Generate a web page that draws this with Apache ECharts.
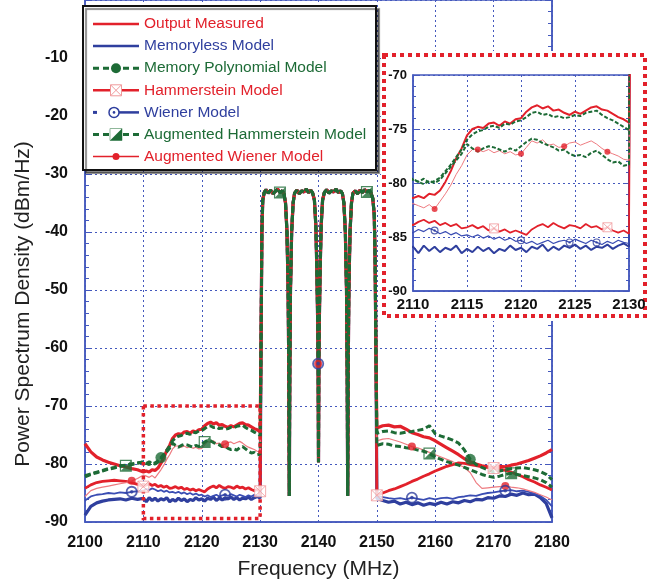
<!DOCTYPE html>
<html>
<head>
<meta charset="utf-8">
<script src="https://cdn.jsdelivr.net/npm/echarts@6/dist/echarts.min.js"></script>
<style>
html,body{margin:0;padding:0;background:#fff;}
#chart{width:651px;height:586px;}
</style>
</head>
<body>
<div id="chart"></div>
<script>
// ---- frequency grids (MHz) ----
const freqLow = [2100,2101,2102,2103,2104,2105,2106,2107,2108,2109,
  2110,2110.5,2111,2111.5,2112,2112.5,2113,2113.5,2114,2114.5,2115,2115.5,2116,2116.5,2117,2117.5,2118,2118.5,2119,2119.5,
  2120,2120.5,2121,2121.5,2122,2122.5,2123,2123.5,2124,2124.5,2125,2125.5,2126,2126.5,2127,2127.5,2128,2128.5,2129,2129.5,2130];
const carrierFreq = [2130.15,2130.3,2130.45,2130.7,2131.0,2131.4,2131.8,2132.2,2132.6,2133.0,2133.4,2133.8,2134.1,2134.35,2134.6,2134.8,2134.92,2135.0,2135.08,2135.2,
  2135.4,2135.65,2135.9,2136.3,2136.7,2137.1,2137.5,2137.9,2138.3,2138.7,2139.0,2139.3,2139.55,2139.75,2139.88,2139.94,2140.0,2140.06,2140.12,2140.25,
  2140.45,2140.7,2141.0,2141.4,2141.8,2142.2,2142.6,2143.0,2143.4,2143.8,2144.1,2144.35,2144.6,2144.8,2144.92,2145.0,2145.08,2145.2,2145.4,2145.65,
  2145.9,2146.3,2146.7,2147.1,2147.5,2147.9,2148.3,2148.7,2149.0,2149.3,2149.55,2149.7,2149.85];
const freqHigh = [2150,2151,2152,2153,2154,2155,2156,2157,2158,2159,2160,2161,2162,2163,2164,2165,2166,2167,2168,2169,2170,2171,2172,2173,2174,2175,2176,2177,2178,2179,2180];

// ---- four-carrier band, common to all models (dBm/Hz) ----
const carrierLevel = [-60,-40,-34.5,-33.2,-32.7,-33.3,-32.8,-33.4,-33.0,-32.6,-33.2,-32.9,-33.5,-35,-40,-50,-65,-85.5,-65,-50,
  -40,-35,-33.3,-32.8,-33.4,-32.9,-33.1,-32.6,-33.2,-32.8,-33.3,-34.5,-39,-48,-57,-62.7,-79.7,-62.7,-57,-48,
  -39,-34.5,-33.2,-32.7,-33.3,-32.9,-33.1,-32.6,-33.2,-32.9,-33.4,-35,-40,-50,-65,-85.5,-65,-50,-40,-35,
  -33.3,-32.9,-33.4,-32.8,-33.2,-32.7,-33.1,-32.8,-33.3,-34.2,-37,-45,-62];

// ---- lower adjacent band (2100-2130) ----
const outputLow = [-76.5,-77.9,-78.8,-79.3,-79.7,-80.0,-80.3,-80.5,-80.8,-81.0,
  -81.4,-81.2,-81.4,-81.0,-81.1,-80.7,-79.9,-78.9,-77.7,-76.8,-75.6,-75.0,-74.8,-74.9,-74.5,-74.4,-74.7,-74.3,-74.5,-74.1,
  -74.0,-73.4,-73.0,-72.8,-73.1,-72.9,-73.3,-73.2,-73.5,-73.7,-73.4,-73.6,-73.3,-73.0,-72.9,-73.2,-73.3,-73.6,-73.9,-74.1,-74.4];
const memorylessLow = [-88.8,-87.3,-86.7,-86.4,-86.2,-86.1,-86.0,-86.2,-85.9,-86.1,
  -85.9,-86.5,-85.8,-86.3,-85.9,-86.4,-86.0,-86.2,-85.8,-86.5,-86.1,-86.4,-85.9,-86.3,-86.0,-86.5,-86.1,-86.3,-85.8,-86.2,
  -86.0,-86.4,-85.9,-86.1,-85.7,-86.3,-85.9,-86.2,-85.8,-86.0,-85.7,-86.1,-85.8,-86.2,-85.9,-86.0,-85.7,-86.1,-85.8,-85.6,-85.9];
const memPolyLow = [-82.0,-81.7,-81.4,-81.1,-80.8,-80.6,-80.3,-80.2,-80.0,-79.8,
  -79.7,-79.9,-79.6,-80.0,-79.8,-79.5,-78.9,-78.3,-77.6,-76.9,-76.0,-75.5,-75.2,-75.1,-74.8,-74.7,-74.9,-74.5,-74.6,-74.3,
  -74.2,-73.9,-73.5,-73.4,-73.7,-73.6,-73.9,-73.8,-74.0,-73.9,-73.7,-73.8,-73.5,-73.4,-73.3,-73.7,-74.0,-74.2,-74.5,-74.8,-75.1];
const hammersteinLow = [-84.2,-83.6,-83.2,-83.0,-82.9,-82.8,-82.9,-83.0,-83.2,-83.5,
  -83.9,-83.6,-83.4,-83.7,-83.5,-83.9,-83.7,-84.0,-83.8,-84.2,-84.1,-83.9,-84.2,-84.0,-84.4,-84.2,-84.5,-84.3,-84.6,-84.4,
  -84.6,-84.8,-84.3,-84.0,-83.8,-84.1,-83.7,-84.0,-84.2,-83.9,-84.0,-84.2,-83.8,-84.1,-84.0,-84.3,-84.1,-84.4,-84.6,-84.4,-84.7];
const wienerLow = [-86.3,-85.6,-85.3,-85.2,-85.0,-85.1,-84.9,-85.0,-84.8,-84.7,
  -84.6,-84.3,-84.5,-84.2,-84.4,-84.7,-84.5,-84.8,-84.6,-84.9,-84.8,-85.0,-84.8,-85.1,-84.9,-85.2,-85.0,-85.3,-85.1,-85.4,
  -85.3,-85.6,-85.4,-85.7,-85.5,-85.3,-85.6,-85.4,-85.3,-85.5,-85.2,-85.4,-85.6,-85.3,-85.5,-85.7,-85.4,-85.6,-85.3,-85.5,-85.6];
const augHamLow = [-82.2,-81.8,-81.5,-81.2,-80.9,-80.7,-80.4,-80.3,-80.1,-79.9,
  -79.6,-79.9,-80.1,-79.8,-80.0,-79.7,-79.1,-78.5,-77.9,-77.3,-76.4,-76.8,-77.1,-76.8,-76.6,-76.7,-76.9,-77.1,-76.8,-77.0,
  -76.6,-76.2,-75.9,-76.0,-76.3,-76.5,-76.7,-77.0,-76.9,-77.3,-77.5,-77.4,-77.6,-77.2,-77.0,-77.4,-77.8,-78.1,-78.0,-78.4,-78.3];
const augWienerLow = [-85.6,-84.6,-84.2,-84.0,-83.8,-83.6,-83.4,-83.2,-82.9,-82.5,
  -81.9,-82.1,-82.3,-82.0,-82.4,-81.7,-81.0,-80.2,-79.2,-78.4,-77.4,-76.9,-76.9,-77.1,-76.9,-77.2,-77.0,-77.3,-77.1,-77.4,
  -77.3,-76.7,-76.1,-76.3,-76.0,-76.5,-76.4,-76.7,-76.6,-76.3,-76.2,-76.5,-76.3,-76.1,-76.4,-76.8,-77.1,-77.3,-77.5,-77.8,-77.9];

// ---- upper adjacent band (2150-2180) ----
const outputHigh = [-73.8,-73.4,-73.3,-73.6,-73.5,-74.0,-74.6,-74.9,-75.3,-75.5,-76.0,-76.6,-77.2,-77.8,-78.4,-79.1,
  -79.6,-80.0,-80.3,-80.5,-80.6,-80.4,-80.5,-80.2,-80.0,-79.7,-79.4,-79.0,-78.6,-78.1,-77.5];
const memorylessHigh = [-85.9,-86.3,-86.6,-86.4,-86.9,-86.6,-87.0,-86.7,-87.1,-86.8,-87.0,-86.6,-86.9,-86.5,-86.7,-86.3,
  -86.5,-86.1,-86.2,-85.8,-85.9,-85.5,-85.6,-85.2,-85.4,-85.0,-85.3,-85.2,-85.8,-86.8,-89.3];
const memPolyHigh = [-74.7,-74.4,-74.3,-74.6,-74.7,-74.5,-74.4,-74.2,-74.0,-73.4,-74.8,-75.2,-75.5,-75.9,-76.4,-77.6,
  -79.2,-80.1,-80.6,-81.0,-81.4,-81.2,-81.0,-80.8,-80.7,-80.6,-80.8,-81.0,-81.3,-81.8,-82.7];
const hammersteinHigh = [-85.4,-85.0,-84.6,-84.3,-83.9,-83.5,-83.0,-82.6,-82.1,-81.7,-81.2,-80.8,-80.4,-80.1,-79.8,-79.9,
  -80.1,-80.3,-80.5,-80.6,-80.7,-80.9,-81.1,-81.4,-81.8,-82.2,-82.7,-83.1,-83.6,-84.0,-84.5];
const wienerHigh = [-85.5,-85.7,-85.9,-86.0,-85.9,-86.1,-85.8,-86.0,-86.2,-85.9,-86.1,-85.9,-85.8,-86.0,-85.7,-85.6,
  -85.4,-85.5,-85.2,-85.0,-84.9,-84.7,-84.6,-84.5,-84.7,-84.6,-84.8,-85.1,-85.5,-86.2,-87.3];
const augHamHigh = [-76.8,-76.5,-76.6,-76.9,-77.0,-77.2,-77.3,-77.6,-77.8,-78.2,-78.8,-79.2,-79.6,-79.9,-80.2,-80.6,
  -81.0,-81.4,-81.8,-82.1,-82.3,-82.1,-81.8,-81.6,-81.8,-82.0,-82.2,-82.4,-82.7,-83.2,-84.0];
const augWienerHigh = [-76.0,-75.7,-75.6,-75.9,-76.2,-76.6,-77.0,-77.2,-77.6,-78.0,-78.4,-78.8,-79.2,-79.6,-80.1,-80.6,
  -81.5,-83.2,-84.2,-84.1,-84.0,-83.9,-83.8,-84.0,-84.1,-84.3,-84.6,-84.9,-85.3,-85.7,-86.2];

const seriesNames = ['Output Measured','Memoryless Model','Memory Polynomial Model','Hammerstein Model',
  'Wiener Model','Augmented Hammerstein Model','Augmented Wiener Model'];

// frequencies carrying a marker symbol
const markersMain = {
  memPoly: [2113, 2166],
  hammerstein: [2110, 2130, 2150, 2170],
  wiener: [2108, 2124, 2139.94, 2156, 2172],
  augHam: [2107, 2120.5, 2133.4, 2148.3, 2159, 2173],
  augWiener: [2108, 2124, 2139.94, 2156, 2172]
};
const markersInset = {
  hammerstein: [2117.5, 2128],
  wiener: [2112, 2120, 2124.5, 2127],
  augWiener: [2112, 2116, 2120, 2124, 2128]
};

// axis ranges
const mainX = [2100, 2180, 10], mainY = [-90, 0, 10];
const insetX = [2110, 2130, 5], insetY = [-90, -70, 5];
const zoomWindow = {x: [2110, 2130], y: [-89.4, -70]};

// ---- styling ----
const FONT = '"Liberation Sans", Arial, sans-serif';
const RED = '#e2212b', BLUE = '#2f3f9e', GREEN = '#1d6b36', PINK = '#ee7b80', XPINK = '#f09a9c', AXIS = '#4458bd';
const SYM_XBOX = 'path://M0,0H10V10H0Z M0,0L10,10 M10,0L0,10';
const SYM_RING = 'path://M0,10A10,10,0,1,1,20,10A10,10,0,1,1,0,10Z M3,10A7,7,0,1,0,17,10A7,7,0,1,0,3,10Z M7,10A3,3,0,1,1,13,10A3,3,0,1,1,7,10Z';
const SYM_HALF = 'path://M0,0H12V12H0Z M1.2,1.2V10.8H10.8V1.2Z M12,0V12H0Z';

const allFreq = freqLow.concat(carrierFreq, freqHigh);
const full = (low, high) => low.concat(carrierLevel, high);
const values = {
  output: full(outputLow, outputHigh),
  memoryless: full(memorylessLow, memorylessHigh),
  memPoly: full(memPolyLow, memPolyHigh),
  hammerstein: full(hammersteinLow, hammersteinHigh),
  wiener: full(wienerLow, wienerHigh),
  augHam: full(augHamLow, augHamHigh),
  augWiener: full(augWienerLow, augWienerHigh)
};

// draw order: bottom to top
const lineDefs = [
  {key: 'memoryless', name: seriesNames[1], color: BLUE, width: 3.2, iw: 2},
  {key: 'wiener', name: seriesNames[4], color: '#3a4db3', width: 1.8, iw: 1.2},
  {key: 'hammerstein', name: seriesNames[3], color: RED, width: 2.8, iw: 1.8},
  {key: 'augWiener', name: seriesNames[6], color: PINK, width: 1.2, iw: 1},
  {key: 'output', name: seriesNames[0], color: RED, width: 3.2, iw: 2},
  {key: 'augHam', name: seriesNames[5], color: GREEN, width: 3, iw: 2, dash: [6, 3], idash: [4, 2]},
  {key: 'memPoly', name: seriesNames[2], color: GREEN, width: 3, iw: 2, dash: [6, 3], idash: [4, 2]}
];
const markerDefs = [
  {key: 'augWiener', symbol: 'circle', size: 8, isize: 6, style: {color: RED}},
  {key: 'hammerstein', symbol: SYM_XBOX, size: 11, isize: 9, style: {color: '#fff', borderColor: XPINK, borderWidth: 1}},
  {key: 'wiener', symbol: SYM_RING, size: 12, isize: 8, style: {color: BLUE}},
  {key: 'augHam', symbol: SYM_HALF, size: 12, isize: 9, style: {color: GREEN}},
  {key: 'memPoly', symbol: 'circle', size: 11, isize: 8, style: {color: GREEN}}
];

const series = [];
lineDefs.forEach((d, k) => {
  const data = allFreq.map((f, i) => [f, values[d.key][i]]);
  const common = {type: 'line', name: d.name, data, showSymbol: false, silent: true, animation: false,
    emphasis: {disabled: true}, itemStyle: {color: d.color}};
  series.push(Object.assign({}, common, {xAxisIndex: 0, yAxisIndex: 0, z: 2 + k,
    lineStyle: {color: d.color, width: d.width, type: d.dash || 'solid'}}));
  series.push(Object.assign({}, common, {xAxisIndex: 1, yAxisIndex: 2, z: 10 + k,
    lineStyle: {color: d.color, width: d.iw, type: d.idash || 'solid'}}));
});
const pick = (key, freqs) => freqs.map(f => [f, values[key][allFreq.indexOf(f)]]);
markerDefs.forEach((m, k) => {
  const common = {type: 'scatter', symbol: m.symbol, itemStyle: m.style, silent: true, animation: false, emphasis: {disabled: true}};
  if (markersMain[m.key]) series.push(Object.assign({}, common, {xAxisIndex: 0, yAxisIndex: 0, z: 20 + k,
    symbolSize: m.size, data: pick(m.key, markersMain[m.key])}));
  if (markersInset[m.key]) series.push(Object.assign({}, common, {xAxisIndex: 1, yAxisIndex: 2, z: 20 + k,
    symbolSize: m.isize, data: pick(m.key, markersInset[m.key])}));
});

const splitDotted = {show: true, lineStyle: {color: AXIS, width: 1, type: [2, 3]}};
const boldLabel = size => ({color: '#111', fontWeight: 'bold', fontSize: size, fontFamily: FONT});
const plainNumber = v => String(v);

const option = {
  backgroundColor: '#fff',
  animation: false,
  grid: [
    {left: 85, right: 99, top: 0, bottom: 64, show: true, borderColor: AXIS, borderWidth: 1.5, backgroundColor: 'transparent', z: 0},
    {left: 413, right: 22, top: 75, bottom: 295, show: true, borderColor: AXIS, borderWidth: 1.5, backgroundColor: 'transparent', z: 5}
  ],
  xAxis: [
    {gridIndex: 0, type: 'value', min: mainX[0], max: mainX[1], interval: mainX[2],
      axisLine: {onZero: false, lineStyle: {color: AXIS, width: 1.5}}, axisTick: {show: false},
      axisLabel: Object.assign(boldLabel(16), {margin: 13, formatter: plainNumber}), splitLine: splitDotted,
      name: 'Frequency (MHz)', nameLocation: 'middle', nameGap: 37,
      nameTextStyle: {fontSize: 21, color: '#222', fontFamily: FONT}},
    {gridIndex: 1, type: 'value', min: insetX[0], max: insetX[1], interval: insetX[2], z: 5,
      axisLine: {onZero: false, lineStyle: {color: AXIS, width: 1.5}}, axisTick: {show: false},
      axisLabel: Object.assign(boldLabel(15), {margin: 6, formatter: plainNumber}), splitLine: splitDotted}
  ],
  yAxis: [
    {gridIndex: 0, type: 'value', min: mainY[0], max: mainY[1], interval: mainY[2],
      axisLine: {show: true, onZero: false, lineStyle: {color: AXIS, width: 1.5}},
      axisTick: {show: true, inside: true, length: 6, lineStyle: {color: AXIS}},
      minorTick: {show: true, splitNumber: 5, length: 4, lineStyle: {color: AXIS}},
      axisLabel: Object.assign(boldLabel(16), {margin: 17, formatter: v => (v === 0 ? '' : String(v))}),
      splitLine: splitDotted},
    {gridIndex: 0, type: 'value', position: 'right', min: mainY[0], max: mainY[1], interval: mainY[2],
      axisLine: {show: true, onZero: false, lineStyle: {color: AXIS, width: 1.5}},
      axisTick: {show: true, inside: true, length: 6, lineStyle: {color: AXIS}},
      minorTick: {show: true, splitNumber: 5, length: 4, lineStyle: {color: AXIS}},
      axisLabel: {show: false}, splitLine: {show: false}},
    {gridIndex: 1, type: 'value', min: insetY[0], max: insetY[1], interval: insetY[2], z: 5,
      axisLine: {show: true, onZero: false, lineStyle: {color: AXIS, width: 1.5}},
      axisTick: {show: true, inside: true, length: 5, lineStyle: {color: AXIS}},
      minorTick: {show: true, splitNumber: 5, length: 3, lineStyle: {color: AXIS}},
      axisLabel: Object.assign(boldLabel(13), {margin: 6}), splitLine: splitDotted},
    {gridIndex: 1, type: 'value', position: 'right', min: insetY[0], max: insetY[1], interval: insetY[2], z: 5,
      axisLine: {show: true, onZero: false, lineStyle: {color: AXIS, width: 1.5}},
      axisTick: {show: true, inside: true, length: 5, lineStyle: {color: AXIS}},
      minorTick: {show: true, splitNumber: 5, length: 3, lineStyle: {color: AXIS}},
      axisLabel: {show: false}, splitLine: {show: false}}
  ],
  series
};

const chart = echarts.init(document.getElementById('chart'), null, {renderer: 'canvas'});
chart.setOption(option);

// ---- overlay: zoom window, inset frame, legend box, y title ----
const p1 = chart.convertToPixel({xAxisIndex: 0, yAxisIndex: 0}, [zoomWindow.x[0], zoomWindow.y[1]]);
const p2 = chart.convertToPixel({xAxisIndex: 0, yAxisIndex: 0}, [zoomWindow.x[1], zoomWindow.y[0]]);

const graphics = [
  {type: 'rect', z: 9, silent: true, shape: {x: p1[0], y: p1[1], width: p2[0] - p1[0], height: p2[1] - p1[1]},
    style: {fill: 'none', stroke: RED, lineWidth: 3.5, lineDash: [3.5, 3.5]}},
  {type: 'rect', z: 3, silent: true, shape: {x: 381, y: 51, width: 270, height: 270}, style: {fill: '#fff'}},
  {type: 'rect', z: 4, silent: true, shape: {x: 384, y: 55, width: 261, height: 261},
    style: {fill: 'none', stroke: RED, lineWidth: 4, lineDash: [4, 4]}},
  {type: 'text', z: 30, silent: true, x: 23, y: 304, rotation: Math.PI / 2,
    style: {text: 'Power Spectrum Density (dBm/Hz)', font: '21px ' + FONT, fill: '#222', textAlign: 'center', textVerticalAlign: 'middle'}},
  {type: 'rect', z: 30, silent: true, shape: {x: 83, y: 6, width: 293, height: 164},
    style: {fill: '#fff', stroke: '#111', lineWidth: 2, shadowColor: 'rgba(0,0,0,0.45)', shadowOffsetX: 3, shadowOffsetY: 3, shadowBlur: 1}}
];

const legendColors = [RED, BLUE, GREEN, RED, BLUE, GREEN, RED];
const LX0 = 93, LX1 = 139, LMID = 116;
seriesNames.forEach((name, i) => {
  const cy = 24 + i * 22.1;
  const z = 31;
  const ln = (x1, x2, color, w, dash) => ({type: 'line', z, silent: true, shape: {x1, y1: cy, x2, y2: cy},
    style: {stroke: color, lineWidth: w, lineDash: dash || null}});
  if (i === 0) graphics.push(ln(LX0, LX1, RED, 2.5));
  if (i === 1) graphics.push(ln(LX0, LX1, BLUE, 2.5));
  if (i === 2) {
    graphics.push(ln(LX0, LX1, GREEN, 3, [6, 4]));
    graphics.push({type: 'circle', z: z + 1, silent: true, shape: {cx: LMID, cy, r: 5}, style: {fill: GREEN}});
  }
  if (i === 3) {
    graphics.push(ln(LX0, LX1, RED, 2.5));
    graphics.push({type: 'rect', z: z + 1, silent: true, shape: {x: LMID - 5.5, y: cy - 5.5, width: 11, height: 11}, style: {fill: '#fff', stroke: XPINK, lineWidth: 1}});
    graphics.push({type: 'line', z: z + 2, silent: true, shape: {x1: LMID - 5.5, y1: cy - 5.5, x2: LMID + 5.5, y2: cy + 5.5}, style: {stroke: XPINK, lineWidth: 1}});
    graphics.push({type: 'line', z: z + 2, silent: true, shape: {x1: LMID + 5.5, y1: cy - 5.5, x2: LMID - 5.5, y2: cy + 5.5}, style: {stroke: XPINK, lineWidth: 1}});
  }
  if (i === 4) {
    graphics.push({type: 'rect', z, silent: true, shape: {x: LX0, y: cy - 1.5, width: 4, height: 3}, style: {fill: BLUE}});
    graphics.push(ln(LMID + 3, LX1, BLUE, 2.5));
    graphics.push({type: 'circle', z: z + 1, silent: true, shape: {cx: LMID - 2, cy, r: 5}, style: {fill: '#fff', stroke: BLUE, lineWidth: 1.5}});
    graphics.push({type: 'circle', z: z + 2, silent: true, shape: {cx: LMID - 2, cy, r: 1.3}, style: {fill: BLUE}});
  }
  if (i === 5) {
    graphics.push(ln(LX0, LX1, GREEN, 3, [6, 4]));
    graphics.push({type: 'rect', z: z + 1, silent: true, shape: {x: LMID - 6, y: cy - 6, width: 12, height: 12}, style: {fill: '#fff', stroke: '#8fb79a', lineWidth: 1}});
    graphics.push({type: 'polygon', z: z + 2, silent: true, shape: {points: [[LMID + 6, cy - 6], [LMID + 6, cy + 6], [LMID - 6, cy + 6]]}, style: {fill: GREEN}});
  }
  if (i === 6) {
    graphics.push(ln(LX0, LX1, RED, 1.5));
    graphics.push({type: 'circle', z: z + 1, silent: true, shape: {cx: LMID, cy, r: 3.5}, style: {fill: RED}});
  }
  graphics.push({type: 'text', z, silent: true, x: 144, y: cy,
    style: {text: name, font: '15.5px ' + FONT, fill: legendColors[i], textAlign: 'left', textVerticalAlign: 'middle'}});
});

chart.setOption({graphic: {elements: graphics}});
</script>
</body>
</html>
